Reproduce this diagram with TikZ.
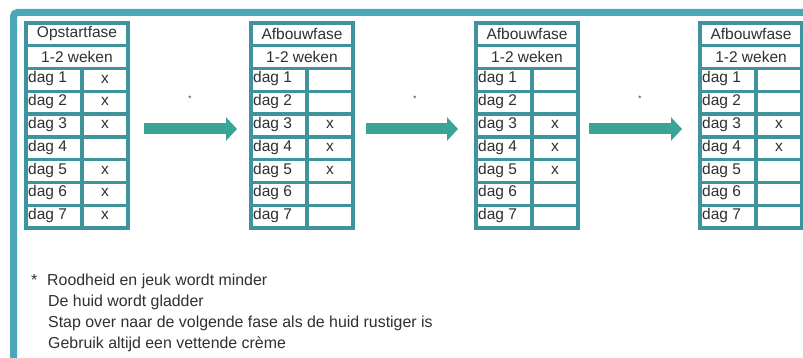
\documentclass[tikz,border=0pt]{standalone}
\usepackage{fontspec}
\setmainfont{Liberation Sans}
\usetikzlibrary{arrows.meta,calc}
\definecolor{framecol}{HTML}{4BA7B7}
\definecolor{gridcol}{HTML}{3F939D}
\definecolor{arrcol}{HTML}{3AA496}
\definecolor{txtcol}{HTML}{303030}
\tikzset{
  tabbox/.style={minimum width=102pt,minimum height=205pt,inner sep=0pt,outer sep=0pt},
  gridline/.style={draw=gridcol,line width=3.3pt},
  outerline/.style={draw=gridcol,line width=4pt},
  celltext/.style={inner sep=0pt,text=txtcol,font=\fontsize{15.5}{17}\selectfont},
  phasearrow/.style={draw=arrcol,line width=11pt,-{Triangle[length=11pt,width=23pt]}},
  stardot/.style={inner sep=0pt,text=txtcol,font=\fontsize{8}{9}\selectfont},
  notetext/.style={inner sep=0pt,anchor=base west,text=txtcol,font=\fontsize{15.9}{18}\selectfont},
}
\newcommand\phasetab[4]{%
  \node[tabbox] (#1) at (#2+51,125.5) {};
  \foreach \k in {1,...,8} \draw[gridline] ($(#1.north west)+(0,\k*22.78)$) -- ++(102,0);
  \draw[gridline] ($(#1.north west)+(56,2*22.78)$) -- ($(#1.south west)+(56,0)$);
  \draw[outerline] (#1.north west) rectangle (#1.south east);
  \node[celltext] (#1-h) at ($(#1.north)+(0,11)$) {#3};
  \node[celltext] (#1-w) at ($(#1.north)+(0,33.8)$) {1-2 weken};
  \foreach \k in {1,...,7} \node[celltext,anchor=west] (#1-d\k) at ($(#1.north west)+(2,{(\k+1.5)*22.78-1})$) {dag \k};
  \foreach \k in {#4} \node[celltext] (#1-x\k) at ($(#1.north west)+(79,{(\k+1.5)*22.78-1})$) {x};
}
\begin{document}
\begin{tikzpicture}[x=1pt,y=-1pt]
\useasboundingbox (0,0) rectangle (803,358);
\begin{scope}
\clip (0,0) rectangle (803,358);
\fill[white] (0,0) rectangle (803,358);
\draw[framecol,line width=7pt,rounded corners=4pt] (13.5,12.5) rectangle (840,400);
\phasetab{t1}{26}{Opstartfase}{1,2,3,5,6,7}
\phasetab{t2}{251}{Afbouwfase}{3,4,5}
\phasetab{t3}{476}{Afbouwfase}{3,4,5}
\phasetab{t4}{700}{Afbouwfase}{3,4}
\draw[phasearrow] ($(t1.east)+(16,3.5)$) -- ($(t2.west)+(-14,3.5)$);
\draw[phasearrow] ($(t2.east)+(13,3.5)$) -- ($(t3.west)+(-18,3.5)$);
\draw[phasearrow] ($(t3.east)+(11,3.5)$) -- ($(t4.west)+(-18,3.5)$);
\node[stardot] (s1) at (190,99) {*};
\node[stardot] (s2) at (415,99) {*};
\node[stardot] (s3) at (640,99) {*};
\node[notetext] (n0) at (31,285) {*};
\node[notetext] (n1) at (47,285) {Roodheid en jeuk wordt minder};
\node[notetext] (n2) at (48,306) {De huid wordt gladder};
\node[notetext] (n3) at (48,327) {Stap over naar de volgende fase als de huid rustiger is};
\node[notetext] (n4) at (48,348) {Gebruik altijd een vettende crème};
\end{scope}
\end{tikzpicture}
\end{document}
